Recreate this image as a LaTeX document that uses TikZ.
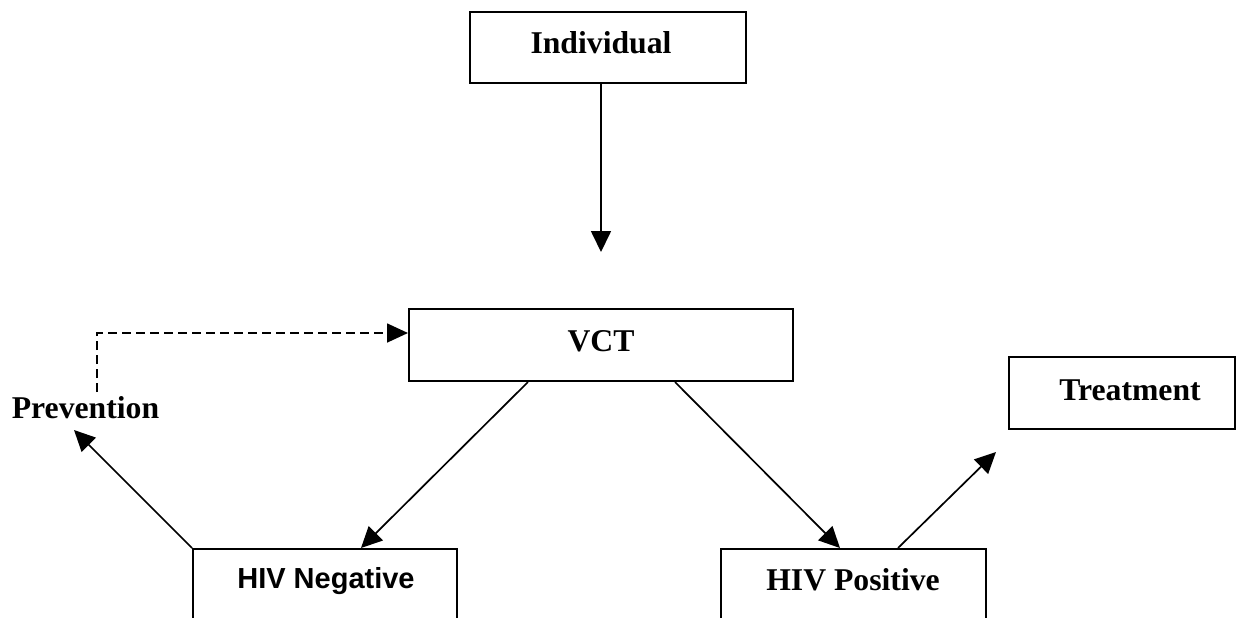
\documentclass[tikz,border=0pt]{standalone}
\usepackage{fontspec}
\setmainfont{Liberation Serif}
\newfontfamily\arialf{Liberation Sans}
\usetikzlibrary{arrows.meta,calc}
\tikzset{
  box/.style={draw=black, line width=1pt, fill=none, inner sep=0pt},
  lbl/.style={anchor=base, inner sep=0pt, font=\fontsize{15.85}{19}\selectfont\bfseries},
  slbl/.style={anchor=base, inner sep=0pt, font=\arialf\fontsize{14.5}{17}\selectfont\bfseries},
  arr/.style={line width=0.85pt, -{Triangle[width=10pt,length=10.5pt]}},
  dasharr/.style={line width=0.85pt, dash pattern=on 4.5pt off 2.5pt, -{Triangle[width=9.5pt,length=10.5pt]}}
}
\begin{document}
\begin{tikzpicture}[x=0.5pt,y=-0.5pt]
\useasboundingbox (0,0) rectangle (1238,617);
\clip (0,0) rectangle (1238,617);
% boxes
\node[box, minimum width=138pt, minimum height=35.5pt] (ind) at (608,47.5) {};
\node[box, minimum width=192pt, minimum height=36pt] (vct) at (601,345) {};
\node[box, minimum width=113pt, minimum height=36pt] (treat) at (1122,393) {};
\node[box, minimum width=132pt, minimum height=55.5pt] (neg) at (325,604.5) {};
\node[box, minimum width=132.5pt, minimum height=55.5pt] (pos) at (853.5,604.5) {};
% labels
\node[lbl] (indt) at (601,53) {Individual};
\node[lbl] (vctt) at (601,351) {VCT};
\node[lbl] (treatt) at (1130,400) {Treatment};
\node[lbl] (prev) at (85.5,418.5) {Prevention};
\node[slbl] (negt) at (326,588) {HIV Negative};
\node[lbl] (post) at (853,590) {HIV Positive};
% free ends
\coordinate (indtip) at (601,252);
\coordinate (prevtip) at (74,430);
\coordinate (treattip) at (996,452);
\coordinate (pvbot) at (97,392);
% connectors
\draw[arr] (ind.south -| vct.north) -- (indtip);
\draw[dasharr] (pvbot) |- ([yshift=6pt]vct.west);
\draw[arr] ($(vct.south west)+(120,0)$) -- ($(neg.north west)+(169,0)$);
\draw[arr] ($(vct.south east)+(-119,0)$) -- ($(pos.north west)+(120,0)$);
\draw[arr] (neg.north west) -- (prevtip);
\draw[arr] ($(pos.north west)+(178,0)$) -- (treattip);
\end{tikzpicture}
\end{document}
